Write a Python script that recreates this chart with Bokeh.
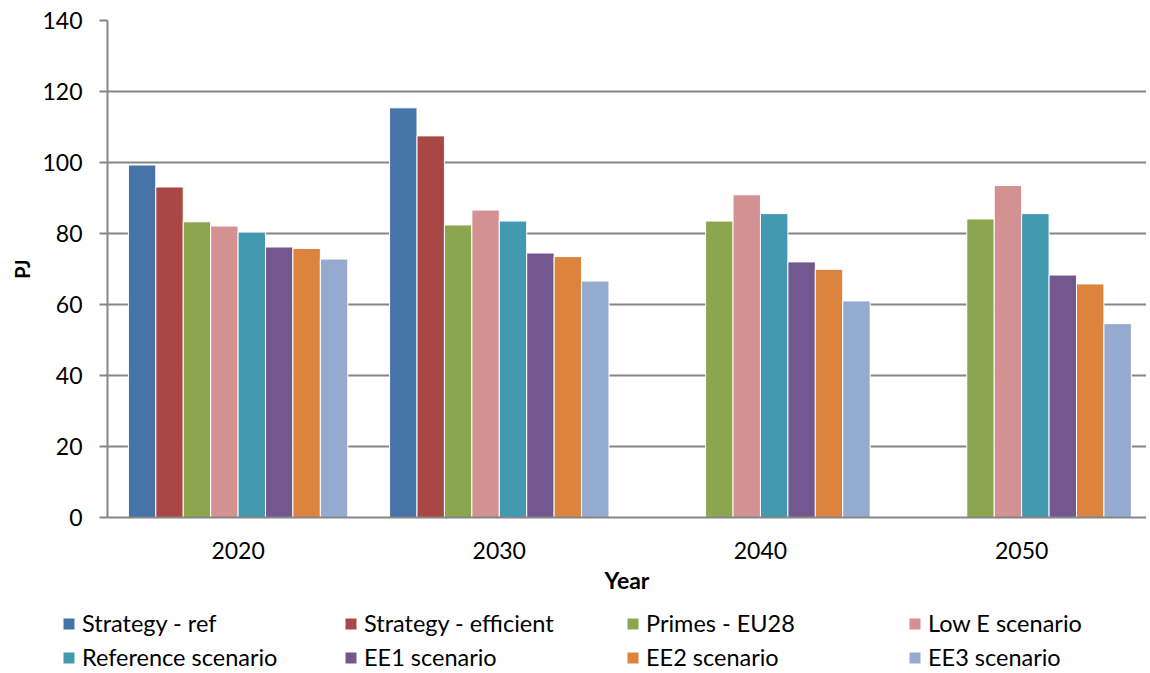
from bokeh.plotting import figure
from bokeh.models import ColumnDataSource, Legend, LegendItem, Range1d, SingleIntervalTicker, FixedTicker
from bokeh.embed import file_html
from bokeh.resources import INLINE

years = ["2020", "2030", "2040", "2050"]
series_names = ["Strategy - ref", "Strategy - efficient", "Primes - EU28", "Low E scenario",
                "Reference scenario", "EE1 scenario", "EE2 scenario", "EE3 scenario"]
strategy_ref = [99.3, 115.4, None, None]
strategy_efficient = [93.1, 107.5, None, None]
primes_eu28 = [83.3, 82.4, 83.5, 84.1]
low_e = [82.1, 86.6, 90.9, 93.5]
reference = [80.4, 83.5, 85.6, 85.6]
ee1 = [76.2, 74.5, 72.0, 68.3]
ee2 = [75.8, 73.5, 69.9, 65.8]
ee3 = [72.8, 66.6, 61.0, 54.6]
all_series = [strategy_ref, strategy_efficient, primes_eu28, low_e, reference, ee1, ee2, ee3]
colors = ["#4674A8", "#A84744", "#8BA64E", "#D39191", "#4399B0", "#735890", "#DC843E", "#95AACF"]

FONT = "Lato"
GRAY = "#868686"

centers = [i + 0.5 for i in range(len(years))]
bw = 0.105


def series_source(i, vals):
    xs = [cx + (i - 3.5) * bw for cx, v in zip(centers, vals) if v is not None]
    vs = [v for v in vals if v is not None]
    return ColumnDataSource(dict(x=xs, top=vs))


p = figure(x_range=Range1d(0, 3.978), y_range=Range1d(0, 140),
           width=1146, height=597, output_backend="svg", toolbar_location=None,
           min_border_left=107, min_border_top=20, min_border_right=0, min_border_bottom=80)
p.outline_line_color = None
p.background_fill_color = "white"

for i, (vals, c) in enumerate(zip(all_series, colors)):
    p.vbar(x="x", top="top", bottom=0, width=bw, source=series_source(i, vals),
           fill_color=c, line_color="white", line_width=1)

# y axis
p.yaxis.ticker = SingleIntervalTicker(interval=20)
p.yaxis.axis_line_color = GRAY
p.yaxis.axis_line_width = 2
p.yaxis.major_tick_line_color = GRAY
p.yaxis.major_tick_line_width = 2
p.yaxis.major_tick_in = 0
p.yaxis.major_tick_out = 8
p.yaxis.minor_tick_line_color = None
p.yaxis.major_label_standoff = 17
p.yaxis.major_label_text_font = FONT
p.yaxis.major_label_text_font_size = "23px"
p.yaxis.major_label_text_color = "black"
p.yaxis.axis_label = "PJ"
p.yaxis.axis_label_text_font = FONT
p.yaxis.axis_label_text_font_size = "20px"
p.yaxis.axis_label_text_font_style = "bold"
p.yaxis.axis_label_text_color = "black"
p.yaxis.axis_label_standoff = 5

# x axis
p.xaxis.ticker = FixedTicker(ticks=centers)
p.xaxis.major_label_overrides = {cx: y for cx, y in zip(centers, years)}
p.xaxis.axis_line_color = GRAY
p.xaxis.axis_line_width = 2
p.xaxis.major_tick_line_color = None
p.xaxis.minor_tick_line_color = None
p.xaxis.major_tick_in = 0
p.xaxis.major_tick_out = 0
p.xaxis.major_label_standoff = 24
p.xaxis.major_label_text_font = FONT
p.xaxis.major_label_text_font_size = "23px"
p.xaxis.major_label_text_color = "black"
p.xaxis.axis_label = "Year"
p.xaxis.axis_label_text_font = FONT
p.xaxis.axis_label_text_font_size = "23px"
p.xaxis.axis_label_text_font_style = "bold"
p.xaxis.axis_label_text_color = "black"
p.xaxis.axis_label_standoff = 4

p.xgrid.grid_line_color = None
p.ygrid.grid_line_color = GRAY
p.ygrid.grid_line_width = 2

# legend strip below the chart (its bars lie far outside its ranges, only the legend shows)
lg = figure(x_range=Range1d(100, 101), y_range=Range1d(1000, 1001), width=1146, height=74,
            output_backend="svg", toolbar_location=None, x_axis_type=None, y_axis_type=None,
            min_border=0)
lg.outline_line_color = None
lg.xgrid.grid_line_color = None
lg.ygrid.grid_line_color = None
items = []
for i, (name, vals, c) in enumerate(zip(series_names, all_series, colors)):
    r = lg.vbar(x="x", top="top", bottom=0, width=bw, source=series_source(i, vals),
                fill_color=c, line_color="white", line_width=1)
    items.append(LegendItem(label=name, renderers=[r]))

legend = Legend(items=items, ncols=4, orientation="horizontal", location=(61, 0),
                border_line_color=None, background_fill_alpha=0,
                glyph_width=15, glyph_height=15, label_standoff=6, label_width=255,
                label_height=24, spacing=6, padding=0, margin=0,
                label_text_font=FONT, label_text_font_size="23.5px", label_text_color="black")
lg.add_layout(legend)

open("out.html", "w").write(file_html([p, lg], INLINE))
